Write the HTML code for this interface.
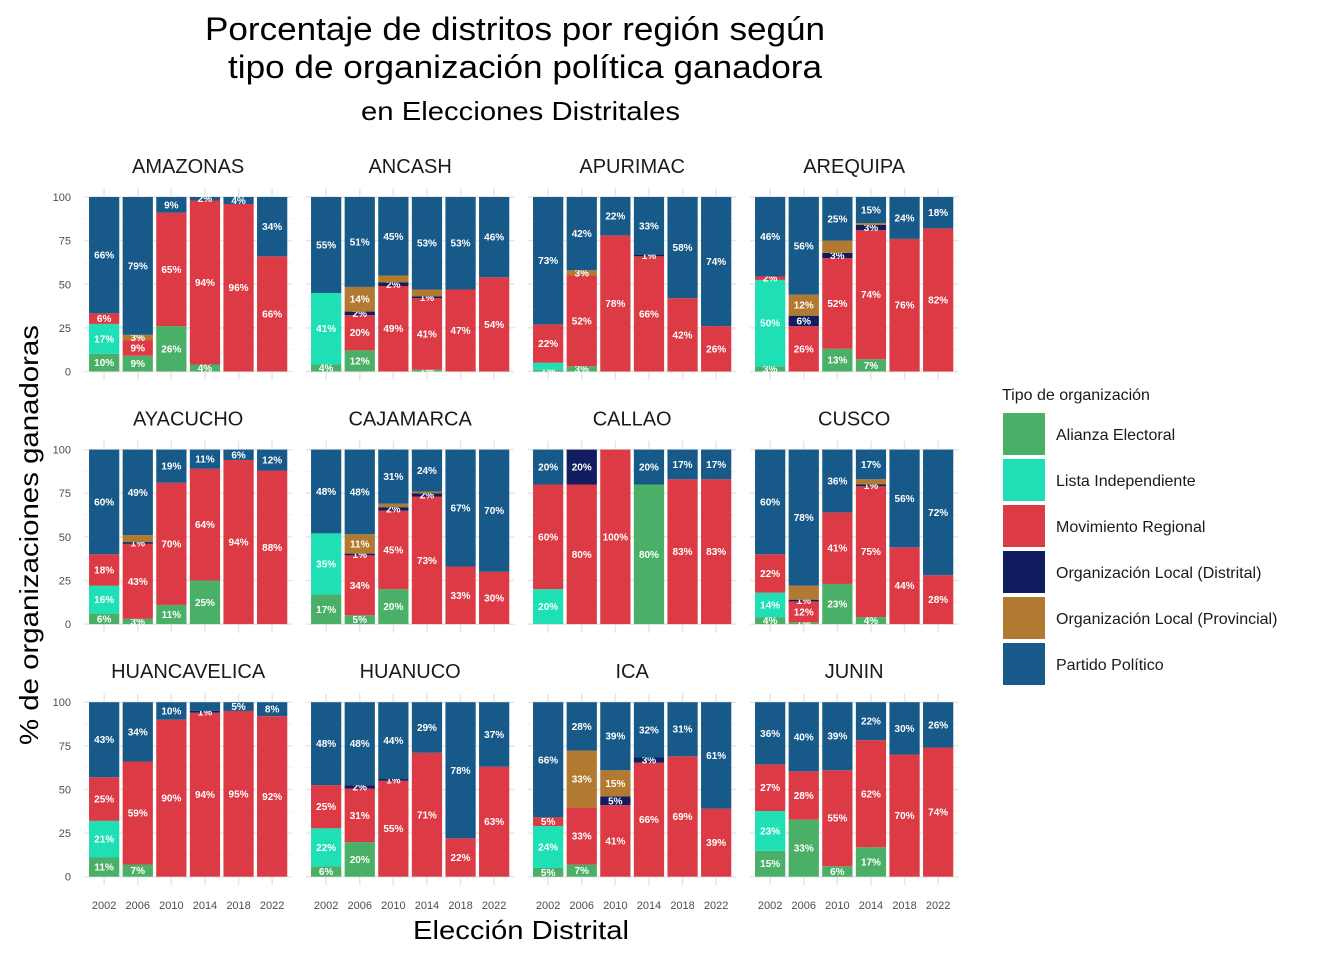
<!DOCTYPE html>
<html><head><meta charset="utf-8">
<style>
html,body{margin:0;padding:0;background:#fff;width:1344px;height:960px;overflow:hidden}
svg text{font-family:"Liberation Sans",Arial,sans-serif}
</style></head>
<body>
<svg id="chart" width="1344" height="960" viewBox="0 0 1344 960" xmlns="http://www.w3.org/2000/svg">
<text x="205" y="40" font-size="32" textLength="620" lengthAdjust="spacingAndGlyphs" fill="#000">Porcentaje de distritos por región según</text>
<text x="228" y="78" font-size="32" textLength="594" lengthAdjust="spacingAndGlyphs" fill="#000">tipo de organización política ganadora</text>
<text x="361" y="120" font-size="26" textLength="319" lengthAdjust="spacingAndGlyphs" fill="#000">en Elecciones Distritales</text>
<text transform="translate(38,745) rotate(-90)" font-size="26" textLength="420" lengthAdjust="spacingAndGlyphs" fill="#000">% de organizaciones ganadoras</text>
<text x="413" y="939" font-size="26" textLength="216" lengthAdjust="spacingAndGlyphs" fill="#000">Elección Distrital</text>
<g id="panels"></g>
<g id="legend"></g>
</svg>
<script>
const regions=["AMAZONAS","ANCASH","APURIMAC","AREQUIPA","AYACUCHO","CAJAMARCA","CALLAO","CUSCO","HUANCAVELICA","HUANUCO","ICA","JUNIN"];
const years=["2002","2006","2010","2014","2018","2022"];
const yTicks=[0,25,50,75,100];
const seriesNames=["Alianza Electoral","Lista Independiente","Movimiento Regional","Organización Local (Distrital)","Organización Local (Provincial)","Partido Político"];
const seriesColors=["#4AAF67","#1FE0B5","#DC3B46","#111D5E","#B27A30","#175A89"];
const alianza=[[10,9,26,4,0,0],[4,12,0,1,0,0],[1,3,0,0,0,0],[3,0,13,7,0,0],[6,3,11,25,0,0],[17,5,20,0,0,0],[0,0,0,80,0,0],[4,1,23,4,0,0],[11,7,0,0,0,0],[6,20,0,0,0,0],[5,7,0,0,0,0],[15,33,6,17,0,0]];
const lista=[[17,0,0,0,0,0],[41,0,0,0,0,0],[4,0,0,0,0,0],[50,0,0,0,0,0],[16,0,0,0,0,0],[35,0,0,0,0,0],[20,0,0,0,0,0],[14,0,0,0,0,0],[21,0,0,0,0,0],[22,0,0,0,0,0],[24,0,0,0,0,0],[23,0,0,0,0,0]];
const movimiento=[[6,9,65,94,96,66],[0,20,49,41,47,54],[22,52,78,66,42,26],[2,26,52,74,76,82],[18,43,70,64,94,88],[0,34,45,73,33,30],[60,80,100,0,83,83],[22,12,41,75,44,28],[25,59,90,94,95,92],[25,31,55,71,22,63],[5,33,41,66,69,39],[27,28,55,62,70,74]];
const localDist=[[0,0,0,0,0,0],[0,2,2,1,0,0],[0,0,0,1,0,0],[0,6,3,3,0,0],[0,1,0,0,0,0],[0,1,2,2,0,0],[0,20,0,0,0,0],[0,1,0,1,0,0],[0,0,0,1,0,0],[0,2,1,0,0,0],[0,0,5,3,0,0],[0,0,0,0,0,0]];
const localProv=[[0,3,0,0,0,0],[0,14,4,4,0,0],[0,3,0,0,0,0],[0,12,7,1,0,0],[0,4,0,0,0,0],[0,11,2,1,0,0],[0,0,0,0,0,0],[0,8,0,3,0,0],[0,0,0,0,0,0],[0,0,0,0,0,0],[0,33,15,0,0,0],[0,0,0,0,0,0]];
const partido=[[66,79,9,2,4,34],[55,51,45,53,53,46],[73,42,22,33,58,74],[46,56,25,15,24,18],[60,49,19,11,6,12],[48,48,31,24,67,70],[20,0,0,20,17,17],[60,78,36,17,56,72],[43,34,10,5,5,8],[48,48,44,29,78,37],[66,28,39,32,31,61],[36,40,39,22,30,26]];
const series=[alianza,lista,movimiento,localDist,localProv,partido];
const hiddenLabels=["ANCASH-2010-4","ANCASH-2014-4","AREQUIPA-2010-4","AREQUIPA-2014-4","AYACUCHO-2006-4","CAJAMARCA-2010-4","CAJAMARCA-2014-4","CUSCO-2006-4","CUSCO-2014-4","HUANCAVELICA-2014-5","APURIMAC-2002-1"];

const NS="http://www.w3.org/2000/svg";
function mk(tag,attrs,parent){const e=document.createElementNS(NS,tag);for(const k in attrs)e.setAttribute(k,attrs[k]);parent.appendChild(e);return e;}
const panelsG=document.getElementById('panels');
const band=33.6, pw=band*6.2, colStep=222, rowStep=252.6, yScale=1.745;
function xPanel(c){return 84+c*colStep;}
function xCenter(c,i){return xPanel(c)+band*(0.6+i);}
function y100(r){return 197+r*rowStep;}
function yPos(r,v){return y100(r)+(100-v)*yScale;}

regions.forEach((reg,p)=>{
  const c=p%4, r=Math.floor(p/4);
  const g=mk('g',{},panelsG);
  
  
  const top=yPos(r,105), bot=yPos(r,-5), x0=xPanel(c);
  for(let v=12.5;v<100;v+=25){const l=mk('line',{x1:x0,x2:x0+pw,y1:yPos(r,v),y2:yPos(r,v),stroke:'#f2f2f2','stroke-width':1},g);}
  yTicks.forEach(v=>{const l=mk('line',{x1:x0,x2:x0+pw,y1:yPos(r,v),y2:yPos(r,v),stroke:'#e6e6e6','stroke-width':1.5},g);});
  years.forEach((yr,i)=>{const l=mk('line',{x1:xCenter(c,i),x2:xCenter(c,i),y1:top,y2:bot,stroke:'#e6e6e6','stroke-width':1.5},g);});
  const st=mk('text',{x:x0+pw/2,y:y100(r)-24,'font-size':20,'text-anchor':'middle',fill:'#1a1a1a'},g);
  st.textContent=reg;
  
  
  if(c===0){yTicks.forEach(v=>{const t=mk('text',{x:71,y:yPos(r,v)+4,'font-size':11,'text-anchor':'end',fill:'#4d4d4d'},g);t.textContent=v;});}
  if(r===2){years.forEach((yr,i)=>{const t=mk('text',{x:xCenter(c,i),y:909,'font-size':11,'text-anchor':'middle',fill:'#4d4d4d'},g);t.textContent=yr;});}
  years.forEach((yr,i)=>{
    const vals=series.map(s=>s[p][i]);
    const tot=vals.reduce((a,b)=>a+b,0)||1;
    let cum=0;
    vals.forEach((v,s)=>{
      if(v<=0)return;
      const nv=v/tot*100;
      const yb=yPos(r,cum), yt=yPos(r,cum+nv);
      const rect=mk('rect',{x:xCenter(c,i)-band*0.45,y:yt,width:band*0.9,height:yb-yt,fill:seriesColors[s]},g);
      
      
      if(hiddenLabels.indexOf(reg+'-'+yr+'-'+s)<0){
        const lab=mk('text',{x:xCenter(c,i),y:(yt+yb)/2+3.5,'font-size':10,'font-weight':'bold','text-anchor':'middle',fill:'#fff'},g);
        lab.textContent=Math.round(v)+'%';
        
        
      }
      cum+=nv;
    });
  });
});
const lg=document.getElementById('legend');
const lt=mk('text',{x:1002,y:400,'font-size':16,fill:'#1a1a1a'},lg);
lt.textContent='Tipo de organización';


seriesNames.forEach((n,s)=>{
  const y=413+s*46;
  const k=mk('rect',{x:1003,y:y,width:42,height:42,fill:seriesColors[s]},lg);
  
  
  const t=mk('text',{x:1056,y:y+27,'font-size':16,fill:'#1a1a1a'},lg);
  t.textContent=n;
  
  
});
</script>
</body></html>
